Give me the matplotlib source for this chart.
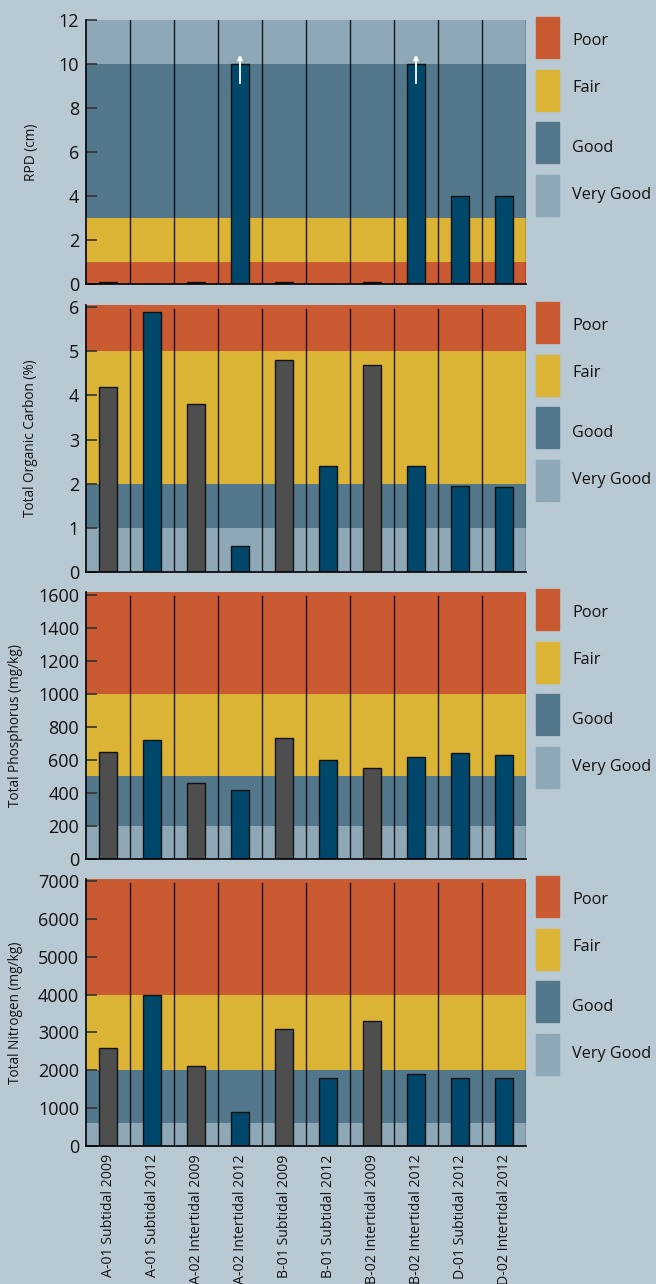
import matplotlib.pyplot as plt
import numpy as np
from matplotlib.patches import Rectangle

plt.rcParams['font.family'] = ['Open Sans', 'DejaVu Sans']

# sample sites along the x axis
sites = ['A-01 Subtidal 2009', 'A-01 Subtidal 2012', 'A-02 Intertidal 2009',
         'A-02 Intertidal 2012', 'B-01 Subtidal 2009', 'B-01 Subtidal 2012',
         'B-02 Intertidal 2009', 'B-02 Intertidal 2012', 'D-01 Subtidal 2012',
         'D-02 Intertidal 2012']
years = [2009, 2012, 2009, 2012, 2009, 2012, 2009, 2012, 2012, 2012]

rpd = [0.1, 0, 0.1, 10, 0.1, 0, 0.1, 10, 4, 4]
toc = [4.2, 5.9, 3.8, 0.6, 4.8, 2.4, 4.7, 2.4, 1.95, 1.92]
tp = [650, 720, 460, 420, 730, 600, 550, 620, 640, 630]
tn = [2600, 4000, 2100, 900, 3100, 1800, 3300, 1900, 1800, 1800]

# RPD of 10 means "at least 10" -> arrow up
rpd_greater = [False, False, False, True, False, False, False, True, False, False]

# condition bands (lower, upper, condition) for each parameter
rpd_bands = [(0, 1, 'Poor'), (1, 3, 'Fair'), (3, 10, 'Good'), (10, 12, 'Very Good')]
toc_bands = [(0, 1, 'Very Good'), (1, 2, 'Good'), (2, 5, 'Fair'), (5, 6.05, 'Poor')]
tp_bands = [(0, 200, 'Very Good'), (200, 500, 'Good'), (500, 1000, 'Fair'), (1000, 1616, 'Poor')]
tn_bands = [(0, 600, 'Very Good'), (600, 2000, 'Good'), (2000, 4000, 'Fair'), (4000, 7050, 'Poor')]

conditions = ['Poor', 'Fair', 'Good', 'Very Good']
cond_colors = {'Poor': '#c95a32', 'Fair': '#dbb436', 'Good': '#53788c', 'Very Good': '#8fa8b7'}
year_colors = {2009: '#4e4e4e', 2012: '#00486b'}
bg = '#b9c9d3'

W, H = 656, 1284
fig = plt.figure(figsize=(W / 100, H / 100), dpi=100, facecolor=bg)

# (top px, bottom px, values, bands, ylim top, yticks, ylabel, label x)
panels = [
    (20, 284, rpd, rpd_bands, 12, np.arange(0, 13, 2), 'RPD (cm)', -0.107),
    (305, 572, toc, toc_bands, 6.05, np.arange(0, 7, 1), 'Total Organic Carbon (%)', -0.109),
    (592, 859, tp, tp_bands, 1616, np.arange(0, 1601, 200), 'Total Phosphorus (mg/kg)', -0.143),
    (879, 1146, tn, tn_bands, 7050, np.arange(0, 7001, 1000), 'Total Nitrogen (mg/kg)', -0.143),
]

# legend text sits a little off the box centres
text_offsets = [21, 68, 128, 175]

left, right = 86, 526
x = np.arange(len(sites))
bar_cols = [year_colors[y] for y in years]

for i, (top, bot, vals, bands, ytop, yticks, ylab, labx) in enumerate(panels):
    ax = fig.add_axes([left / W, 1 - bot / H, (right - left) / W, (bot - top) / H])
    ax.set_facecolor(bg)
    for lo, hi, c in bands:
        ax.axhspan(lo, hi, color=cond_colors[c], lw=0, zorder=0)
    ax.bar(x, vals, width=0.41, color=bar_cols, edgecolor='#111111', lw=1, zorder=3)
    # separators between sites
    ymax = 1 if i == 0 else 0.985
    for k in range(1, len(sites) + 1):
        ax.axvline(k - 0.5, ymin=0, ymax=ymax, color='black', lw=1, alpha=0.85, zorder=2)
    ax.set_xlim(-0.5, len(sites) - 0.5)
    ax.set_ylim(0, ytop)
    ax.set_yticks(yticks)
    ax.tick_params(axis='y', direction='in', length=8, width=1.2, color='#333333',
                   labelsize=13, pad=5, labelcolor='#111111')
    ax.tick_params(axis='x', length=0)
    for s in ['top', 'right']:
        ax.spines[s].set_visible(False)
    for s in ['left', 'bottom']:
        ax.spines[s].set_color('black')
        ax.spines[s].set_linewidth(1.2)
        ax.spines[s].set_zorder(5)
    ax.set_ylabel(ylab, fontsize=9.8, color='#111111')
    ax.yaxis.set_label_coords(labx, 0.5)
    if i == 3:
        ax.set_xticks(x)
        ax.set_xticklabels(sites, rotation=90, fontsize=10.2, color='#111111', va='top')
        ax.tick_params(axis='x', pad=6)
    else:
        ax.set_xticks([])

    if i == 0:
        for xi, v, g in zip(x, vals, rpd_greater):
            if g:
                ax.annotate('', xy=(xi, v + 0.55), xytext=(xi, v - 1.0),
                            arrowprops=dict(arrowstyle='-|>', color='white', lw=1.3,
                                            mutation_scale=7), zorder=6)

    # condition legend to the right of each panel
    for j, c in enumerate(conditions):
        y0 = top - 3 + j * 52.7
        fig.patches.append(Rectangle((536 / W, 1 - (y0 + 41) / H), 23 / W, 41 / H,
                                     transform=fig.transFigure, color=cond_colors[c]))
        fig.text(572 / W, 1 - (top + text_offsets[j]) / H, c, fontsize=11.7,
                 color='#111111', ha='left', va='center')

fig.savefig('out.png', dpi=100, facecolor=bg)
